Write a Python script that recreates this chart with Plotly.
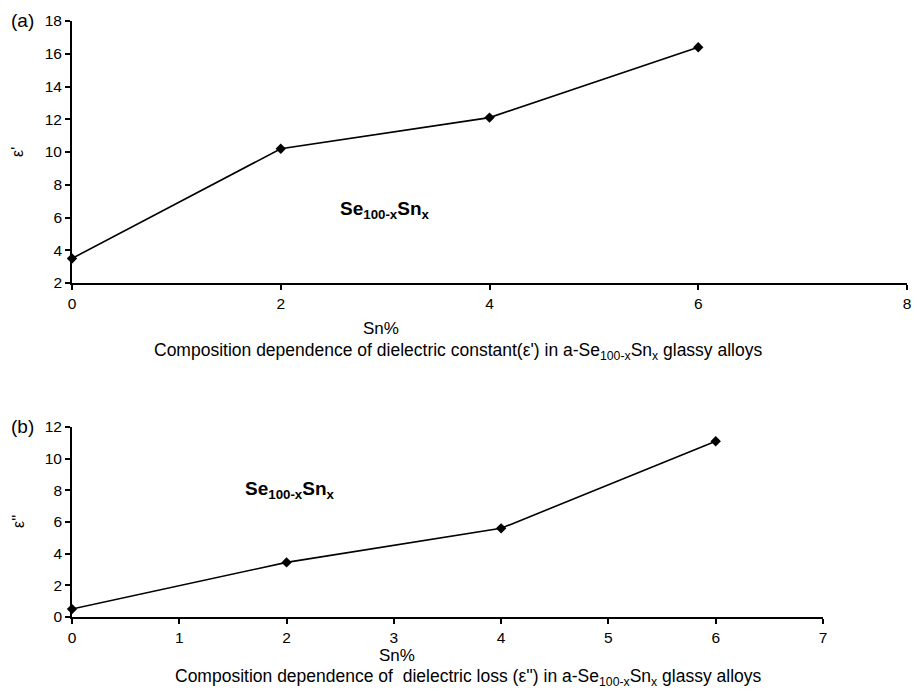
import plotly.graph_objects as go

sn = [0, 2, 4, 6]
eps_real = [3.5, 10.2, 12.1, 16.4]
eps_imag = [0.5, 3.45, 5.6, 11.1]

W, H = 917, 691
FONT = "Liberation Sans, Arial, sans-serif"

fig = go.Figure()
fig.add_trace(go.Scatter(x=sn, y=eps_real, mode="lines+markers",
                         line=dict(color="black", width=1.6),
                         marker=dict(symbol="diamond", size=8, color="black"),
                         xaxis="x", yaxis="y", showlegend=False, cliponaxis=False))
fig.add_trace(go.Scatter(x=sn, y=eps_imag, mode="lines+markers",
                         line=dict(color="black", width=1.6),
                         marker=dict(symbol="diamond", size=8, color="black"),
                         xaxis="x2", yaxis="y2", showlegend=False, cliponaxis=False))

def px(v): return v / W
def py(v): return 1 - v / H

axis_common = dict(showgrid=False, zeroline=False, showline=True, linecolor="black",
                   linewidth=1.8, ticks="outside", ticklen=5, tickcolor="black",
                   tickwidth=1.5, automargin=False,
                   tickfont=dict(size=15.5, color="black", family=FONT))

fig.update_layout(
    width=W, height=H,
    margin=dict(l=0, r=0, t=0, b=0, autoexpand=False),
    paper_bgcolor="white", plot_bgcolor="white",
    font=dict(family=FONT, color="black"),
    xaxis=dict(domain=[px(72), px(907)], range=[0, 8], dtick=2, anchor="y", **axis_common),
    yaxis=dict(domain=[py(283), py(21)], range=[2, 18], dtick=2, anchor="x", **axis_common),
    xaxis2=dict(domain=[px(72), px(823)], range=[0, 7], dtick=1, anchor="y2", **axis_common),
    yaxis2=dict(domain=[py(617), py(427)], range=[0, 12], dtick=2, anchor="x2", **axis_common),
)

ann = []
def txt(x, y, t, size=13, xref="paper", yref="paper", **kw):
    ann.append(dict(x=x, y=y, xref=xref, yref=yref, text=t, showarrow=False,
                    xanchor="center", yanchor="middle",
                    font=dict(size=size, color="black", family=FONT), **kw))

txt(px(22), py(20), "(a)", size=19)
txt(px(22), py(427), "(b)", size=19)
txt(px(18), py(152), "ε'", size=16, textangle=-90)
txt(px(18), py(522), "ε''", size=16, textangle=-90)
txt(px(381), py(329), "Sn%", size=17)
txt(px(458), py(352), "Composition dependence of dielectric constant(ε') in a-Se<sub>100-x</sub>Sn<sub>x</sub> glassy alloys", size=17.5)
txt(px(397), py(655), "Sn%", size=17)
txt(px(468), py(677), "Composition dependence of  dielectric loss (ε'') in a-Se<sub>100-x</sub>Sn<sub>x</sub> glassy alloys", size=17.5)
txt(3.0, 6.45, "<b>Se<sub>100-x</sub>Sn<sub>x</sub></b>", size=19, xref="x", yref="y")
txt(2.03, 8.0, "<b>Se<sub>100-x</sub>Sn<sub>x</sub></b>", size=19, xref="x2", yref="y2")
fig.update_layout(annotations=ann)

fig.write_html("out.html", config={"displayModeBar": False},
               post_script="document.body.style.margin='0';document.body.style.overflow='hidden';")
